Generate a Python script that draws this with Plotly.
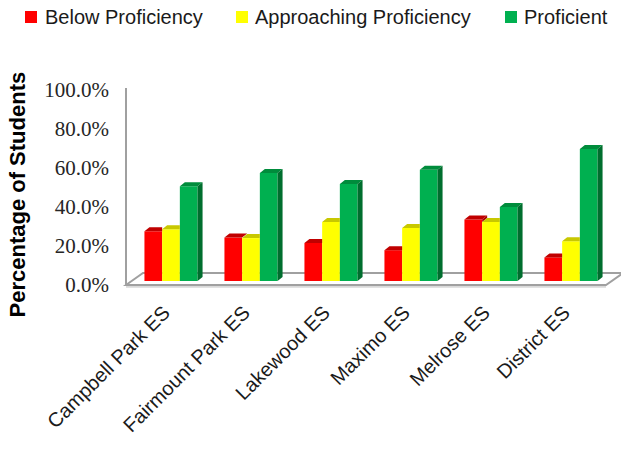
import plotly.graph_objects as go

# ---- data -------------------------------------------------------------
schools = ["Campbell Park ES", "Fairmount Park ES", "Lakewood ES",
           "Maximo ES", "Melrose ES", "District ES"]
below_prof = [25.5, 22.3, 19.5, 15.8, 31.6, 12.1]
approaching_prof = [26.5, 22.0, 30.3, 27.2, 30.3, 20.4]
proficient = [48.6, 55.4, 49.8, 57.1, 37.9, 67.7]
tick_values = [0, 20, 40, 60, 80, 100]
tick_labels = [f"{v:.1f}%" for v in tick_values]

series = [
    ("Below Proficiency", below_prof, "#FF0000", "#C00000", "#A80000"),
    ("Approaching Proficiency", approaching_prof, "#FFFF00", "#C8C800", "#A6A600"),
    ("Proficient", proficient, "#00B050", "#008C3C", "#006E2E"),
]

# ---- page geometry ------------------------------------------------------
W, H = 621, 456
ML, MR, MT, MB = 120, 0, 60, 160
PLOT_W, PLOT_H = W - ML - MR, H - MT - MB

CAT_PX = 80.0          # spacing between school groups
FIRST_CAT_PX = 171.0   # page x of the first group centre
PX_PER_PCT = 1.95      # vertical pixels per percentage point
ZERO_PX = 285.0        # page y of the 0% tick (front edge of the floor)
BAR_LIFT_PX = 4.0      # bars stand slightly back on the floor

x_lo = (ML - FIRST_CAT_PX) / CAT_PX
x_hi = (W - MR - FIRST_CAT_PX) / CAT_PX
y_lo = (ZERO_PX - (H - MB)) / PX_PER_PCT
y_hi = (ZERO_PX - MT) / PX_PER_PCT
lift = BAR_LIFT_PX / PX_PER_PCT

BW = 0.2213                     # single bar width (category units)
GROUP_LEFT = -1.5 * BW          # left edge of a group relative to its centre
DX = 5.0 / CAT_PX               # bar depth, horizontal
DY = 4.0 / PX_PER_PCT           # bar depth, vertical

FLOOR_DX = 17.0 / CAT_PX
FLOOR_DY = 12.0 / PX_PER_PCT
floor_x0 = (126.0 - FIRST_CAT_PX) / CAT_PX
floor_x1 = (606.0 - FIRST_CAT_PX) / CAT_PX
wall_top = (ZERO_PX - 88.0) / PX_PER_PCT

# legend layout: square left edge and text start (page px)
LEGEND_POS = [(25, 43), (236, 253), (505, 522)]
LEGEND_Y = 17
LEGEND_SQ = 12


def px_to_paper_x(px):
    return (px - ML) / PLOT_W


def px_to_paper_y(py):
    return 1 - (py - MT) / PLOT_H


fig = go.Figure()

# front faces
cats = list(range(len(schools)))
for k, (name, vals, front, top, side) in enumerate(series):
    fig.add_trace(go.Bar(
        x=cats, y=vals, name=name, width=BW, offset=GROUP_LEFT + k * BW,
        marker=dict(color=front, line=dict(width=0)),
        yaxis="y2", hoverinfo="skip", showlegend=False,
    ))

# top and side faces, drawn left to right so nearer faces overlap
for k, (name, vals, front, top, side) in enumerate(series):
    nxt = series[k + 1][1] if k + 1 < len(series) else None
    tx, ty, sx, sy = [], [], [], []
    for i, v in enumerate(vals):
        x0 = i + GROUP_LEFT + k * BW
        x1 = x0 + BW
        if nxt is not None and nxt[i] >= v:
            px = [x0, x1, x1, x0 + DX, x0]
        else:
            px = [x0, x1, x1 + DX, x0 + DX, x0]
        py = [v, v, v + DY, v + DY, v]
        tx += px + [None]
        ty += py + [None]
        if nxt is None:
            lo = 0.0
        elif nxt[i] < v:
            lo = nxt[i]
        else:
            continue
        sx += [x1, x1 + DX, x1 + DX, x1, x1, None]
        sy += [lo, lo + DY, v + DY, v, lo, None]
    fig.add_trace(go.Scatter(x=tx, y=ty, yaxis="y2", mode="lines", fill="toself",
                             fillcolor=top, line=dict(width=0, color=top),
                             showlegend=False, hoverinfo="skip"))
    if sx:
        fig.add_trace(go.Scatter(x=sx, y=sy, yaxis="y2", mode="lines", fill="toself",
                                 fillcolor=side, line=dict(width=0, color=side),
                                 showlegend=False, hoverinfo="skip"))

# floor and side wall edge
floor_path = (f"M{floor_x0},0 L{floor_x0 + FLOOR_DX},{FLOOR_DY} "
              f"L{floor_x1 + FLOOR_DX},{FLOOR_DY} L{floor_x1},0 Z")
fig.add_shape(type="line", xref="x", yref="y", x0=floor_x0, x1=floor_x1,
              y0=-0.9, y1=-0.9, line=dict(color="#D9D9D9", width=2), layer="below")
fig.add_shape(type="path", xref="x", yref="y", path=floor_path,
              fillcolor="white", line=dict(color="#A0A0A0", width=2), layer="below")
fig.add_shape(type="line", xref="x", yref="y", x0=floor_x0, x1=floor_x0,
              y0=0, y1=wall_top, line=dict(color="#A0A0A0", width=2), layer="below")

# legend row
for (name, vals, front, top, side), (sq_x, txt_x) in zip(series, LEGEND_POS):
    fig.add_shape(type="rect", xref="paper", yref="paper",
                  x0=px_to_paper_x(sq_x), x1=px_to_paper_x(sq_x + LEGEND_SQ),
                  y0=px_to_paper_y(LEGEND_Y - LEGEND_SQ / 2),
                  y1=px_to_paper_y(LEGEND_Y + LEGEND_SQ / 2),
                  fillcolor=front, line=dict(width=0))
    fig.add_annotation(text=name, xref="paper", yref="paper",
                       x=px_to_paper_x(txt_x), y=px_to_paper_y(LEGEND_Y),
                       xanchor="left", yanchor="middle", showarrow=False,
                       font=dict(family="Liberation Sans", size=20, color="#1A1A1A"))

fig.add_annotation(text="<b>Percentage of Students</b>", textangle=-90,
                   xref="paper", yref="paper",
                   x=px_to_paper_x(16.5), y=px_to_paper_y(195),
                   xanchor="center", yanchor="middle", showarrow=False,
                   font=dict(family="Liberation Sans", size=22, color="#000000"))

fig.update_layout(
    width=W, height=H,
    margin=dict(l=ML, r=MR, t=MT, b=MB, pad=0),
    paper_bgcolor="white", plot_bgcolor="white",
    barmode="overlay",
    showlegend=False,
    xaxis=dict(range=[x_lo, x_hi], tickvals=cats, ticktext=schools,
               tickangle=-45, showgrid=False, zeroline=False, showline=False,
               ticks="", automargin=False, ticklabelshift=-7,
               tickfont=dict(family="Liberation Sans", size=20, color="#1A1A1A")),
    yaxis=dict(range=[y_lo, y_hi], tickvals=tick_values, ticktext=tick_labels,
               showgrid=False, zeroline=False, showline=False,
               ticks="", ticklabelstandoff=10, automargin=False,
               tickfont=dict(family="Liberation Serif, DejaVu Serif, serif",
                             size=21, color="#262626")),
    yaxis2=dict(range=[y_lo - lift, y_hi - lift], overlaying="y", visible=False),
)

fig.write_html("out.html")
